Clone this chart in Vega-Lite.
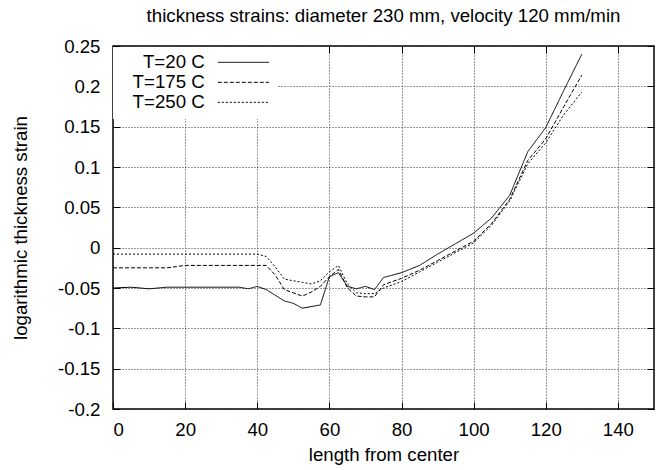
{
  "$schema": "https://vega.github.io/schema/vega-lite/v6.json",
  "width": 541,
  "height": 363,
  "autosize": {"type": "none"},
  "padding": {"left": 113, "top": 46, "right": 9, "bottom": 61},
  "background": "white",
  "title": {"text": "thickness strains: diameter 230 mm, velocity 120 mm/min", "fontSize": 18.67, "font": "Liberation Sans", "fontWeight": "normal", "color": "black", "anchor": "middle", "offset": 11},
  "config": {"view": {"stroke": "black", "strokeWidth": 1.5}, "font": "Liberation Sans"},
  "data": {"values": [
    {"x": 0, "strain": -0.050, "T": "T=20 C"},
    {"x": 5, "strain": -0.049, "T": "T=20 C"},
    {"x": 10, "strain": -0.051, "T": "T=20 C"},
    {"x": 15, "strain": -0.049, "T": "T=20 C"},
    {"x": 20, "strain": -0.049, "T": "T=20 C"},
    {"x": 25, "strain": -0.049, "T": "T=20 C"},
    {"x": 30, "strain": -0.049, "T": "T=20 C"},
    {"x": 35, "strain": -0.049, "T": "T=20 C"},
    {"x": 37.5, "strain": -0.051, "T": "T=20 C"},
    {"x": 40, "strain": -0.048, "T": "T=20 C"},
    {"x": 42.5, "strain": -0.052, "T": "T=20 C"},
    {"x": 45, "strain": -0.059, "T": "T=20 C"},
    {"x": 47.5, "strain": -0.066, "T": "T=20 C"},
    {"x": 50, "strain": -0.069, "T": "T=20 C"},
    {"x": 52.5, "strain": -0.075, "T": "T=20 C"},
    {"x": 57.5, "strain": -0.071, "T": "T=20 C"},
    {"x": 60, "strain": -0.036, "T": "T=20 C"},
    {"x": 62.5, "strain": -0.031, "T": "T=20 C"},
    {"x": 65, "strain": -0.048, "T": "T=20 C"},
    {"x": 67.5, "strain": -0.051, "T": "T=20 C"},
    {"x": 70, "strain": -0.048, "T": "T=20 C"},
    {"x": 72.5, "strain": -0.052, "T": "T=20 C"},
    {"x": 75, "strain": -0.037, "T": "T=20 C"},
    {"x": 80, "strain": -0.031, "T": "T=20 C"},
    {"x": 85, "strain": -0.022, "T": "T=20 C"},
    {"x": 90, "strain": -0.008, "T": "T=20 C"},
    {"x": 95, "strain": 0.005, "T": "T=20 C"},
    {"x": 100, "strain": 0.018, "T": "T=20 C"},
    {"x": 105, "strain": 0.037, "T": "T=20 C"},
    {"x": 110, "strain": 0.065, "T": "T=20 C"},
    {"x": 115, "strain": 0.119, "T": "T=20 C"},
    {"x": 120, "strain": 0.149, "T": "T=20 C"},
    {"x": 125, "strain": 0.195, "T": "T=20 C"},
    {"x": 130, "strain": 0.240, "T": "T=20 C"},
    {"x": 0, "strain": -0.025, "T": "T=175 C"},
    {"x": 5, "strain": -0.025, "T": "T=175 C"},
    {"x": 10, "strain": -0.025, "T": "T=175 C"},
    {"x": 15, "strain": -0.025, "T": "T=175 C"},
    {"x": 20, "strain": -0.022, "T": "T=175 C"},
    {"x": 25, "strain": -0.022, "T": "T=175 C"},
    {"x": 30, "strain": -0.022, "T": "T=175 C"},
    {"x": 35, "strain": -0.022, "T": "T=175 C"},
    {"x": 40, "strain": -0.022, "T": "T=175 C"},
    {"x": 42.5, "strain": -0.022, "T": "T=175 C"},
    {"x": 45, "strain": -0.034, "T": "T=175 C"},
    {"x": 47.5, "strain": -0.052, "T": "T=175 C"},
    {"x": 50, "strain": -0.056, "T": "T=175 C"},
    {"x": 52.5, "strain": -0.060, "T": "T=175 C"},
    {"x": 55, "strain": -0.055, "T": "T=175 C"},
    {"x": 57.5, "strain": -0.048, "T": "T=175 C"},
    {"x": 60, "strain": -0.036, "T": "T=175 C"},
    {"x": 62.5, "strain": -0.027, "T": "T=175 C"},
    {"x": 65, "strain": -0.050, "T": "T=175 C"},
    {"x": 67.5, "strain": -0.060, "T": "T=175 C"},
    {"x": 70, "strain": -0.061, "T": "T=175 C"},
    {"x": 72.5, "strain": -0.061, "T": "T=175 C"},
    {"x": 75, "strain": -0.046, "T": "T=175 C"},
    {"x": 80, "strain": -0.038, "T": "T=175 C"},
    {"x": 85, "strain": -0.028, "T": "T=175 C"},
    {"x": 90, "strain": -0.016, "T": "T=175 C"},
    {"x": 95, "strain": -0.004, "T": "T=175 C"},
    {"x": 100, "strain": 0.008, "T": "T=175 C"},
    {"x": 105, "strain": 0.030, "T": "T=175 C"},
    {"x": 110, "strain": 0.060, "T": "T=175 C"},
    {"x": 115, "strain": 0.108, "T": "T=175 C"},
    {"x": 120, "strain": 0.135, "T": "T=175 C"},
    {"x": 125, "strain": 0.175, "T": "T=175 C"},
    {"x": 130, "strain": 0.214, "T": "T=175 C"},
    {"x": 0, "strain": -0.008, "T": "T=250 C"},
    {"x": 10, "strain": -0.008, "T": "T=250 C"},
    {"x": 20, "strain": -0.008, "T": "T=250 C"},
    {"x": 30, "strain": -0.008, "T": "T=250 C"},
    {"x": 40, "strain": -0.008, "T": "T=250 C"},
    {"x": 42.5, "strain": -0.011, "T": "T=250 C"},
    {"x": 45, "strain": -0.024, "T": "T=250 C"},
    {"x": 47.5, "strain": -0.039, "T": "T=250 C"},
    {"x": 50, "strain": -0.041, "T": "T=250 C"},
    {"x": 52.5, "strain": -0.043, "T": "T=250 C"},
    {"x": 55, "strain": -0.045, "T": "T=250 C"},
    {"x": 57.5, "strain": -0.041, "T": "T=250 C"},
    {"x": 60, "strain": -0.030, "T": "T=250 C"},
    {"x": 62.5, "strain": -0.022, "T": "T=250 C"},
    {"x": 65, "strain": -0.045, "T": "T=250 C"},
    {"x": 67.5, "strain": -0.056, "T": "T=250 C"},
    {"x": 70, "strain": -0.057, "T": "T=250 C"},
    {"x": 72.5, "strain": -0.057, "T": "T=250 C"},
    {"x": 75, "strain": -0.050, "T": "T=250 C"},
    {"x": 80, "strain": -0.042, "T": "T=250 C"},
    {"x": 85, "strain": -0.030, "T": "T=250 C"},
    {"x": 90, "strain": -0.018, "T": "T=250 C"},
    {"x": 95, "strain": -0.006, "T": "T=250 C"},
    {"x": 100, "strain": 0.006, "T": "T=250 C"},
    {"x": 105, "strain": 0.028, "T": "T=250 C"},
    {"x": 110, "strain": 0.058, "T": "T=250 C"},
    {"x": 115, "strain": 0.104, "T": "T=250 C"},
    {"x": 120, "strain": 0.130, "T": "T=250 C"},
    {"x": 125, "strain": 0.165, "T": "T=250 C"},
    {"x": 130, "strain": 0.193, "T": "T=250 C"}
  ]},
  "resolve": {"axis": {"x": "independent", "y": "independent"}},
  "layer": [
    {
      "mark": {"type": "line", "strokeWidth": 1, "color": "black"},
      "encoding": {
        "x": {"field": "x", "type": "quantitative",
          "scale": {"domain": [0, 150], "nice": false, "zero": false},
          "axis": {"values": [0, 20, 40, 60, 80, 100, 120, 140], "title": "length from center", "grid": true, "gridDash": [1, 2], "gridColor": "#333", "ticks": true, "tickSize": -7, "tickColor": "black", "domain": false, "labelFontSize": 18.67, "labelColor": "black", "labelPadding": 18, "labelFont": "Liberation Sans", "titleFontSize": 18.67, "titleFont": "Liberation Sans", "titleFontWeight": "normal", "titleColor": "black", "titlePadding": 7}},
        "y": {"field": "strain", "type": "quantitative",
          "scale": {"domain": [-0.2, 0.25], "nice": false, "zero": false},
          "axis": {"values": [-0.2, -0.15, -0.1, -0.05, 0, 0.05, 0.1, 0.15, 0.2, 0.25], "labelExpr": "replace(format(datum.value, '.2~f'), '\u2212', '-')", "title": "logarithmic thickness strain", "grid": true, "gridDash": [1, 2], "gridColor": "#333", "ticks": true, "tickSize": -7, "tickColor": "black", "domain": false, "labelFontSize": 18.67, "labelColor": "black", "labelPadding": 20, "labelFont": "Liberation Sans", "titleFontSize": 18.67, "titleFont": "Liberation Sans", "titleFontWeight": "normal", "titleColor": "black", "titlePadding": 27}},
        "strokeDash": {"field": "T", "type": "nominal",
          "scale": {"domain": ["T=20 C", "T=175 C", "T=250 C"], "range": [[1, 0], [4, 2], [2, 2]]},
          "legend": {"title": null, "orient": "none", "legendX": 0, "legendY": 1, "symbolType": "M-4,0H4", "symbolSize": 163, "symbolStrokeColor": "black", "symbolStrokeWidth": 1, "symbolOffset": 115, "labelAlign": "right", "labelOffset": -48, "labelFontSize": 18.67, "labelFont": "Liberation Sans", "labelColor": "black", "rowPadding": 0, "fillColor": "white", "padding": 6}}
      }
    },
    {
      "mark": {"type": "line", "opacity": 0},
      "encoding": {
        "x": {"field": "x", "type": "quantitative",
          "axis": {"orient": "top", "values": [0, 20, 40, 60, 80, 100, 120, 140], "labels": false, "title": null, "grid": false, "ticks": true, "tickSize": -7, "tickColor": "black", "domain": false}},
        "y": {"field": "strain", "type": "quantitative",
          "axis": {"orient": "right", "values": [-0.2, -0.15, -0.1, -0.05, 0, 0.05, 0.1, 0.15, 0.2, 0.25], "labels": false, "title": null, "grid": false, "ticks": true, "tickSize": -7, "tickColor": "black", "domain": false}},
        "detail": {"field": "T", "type": "nominal"}
      }
    }
  ]
}
